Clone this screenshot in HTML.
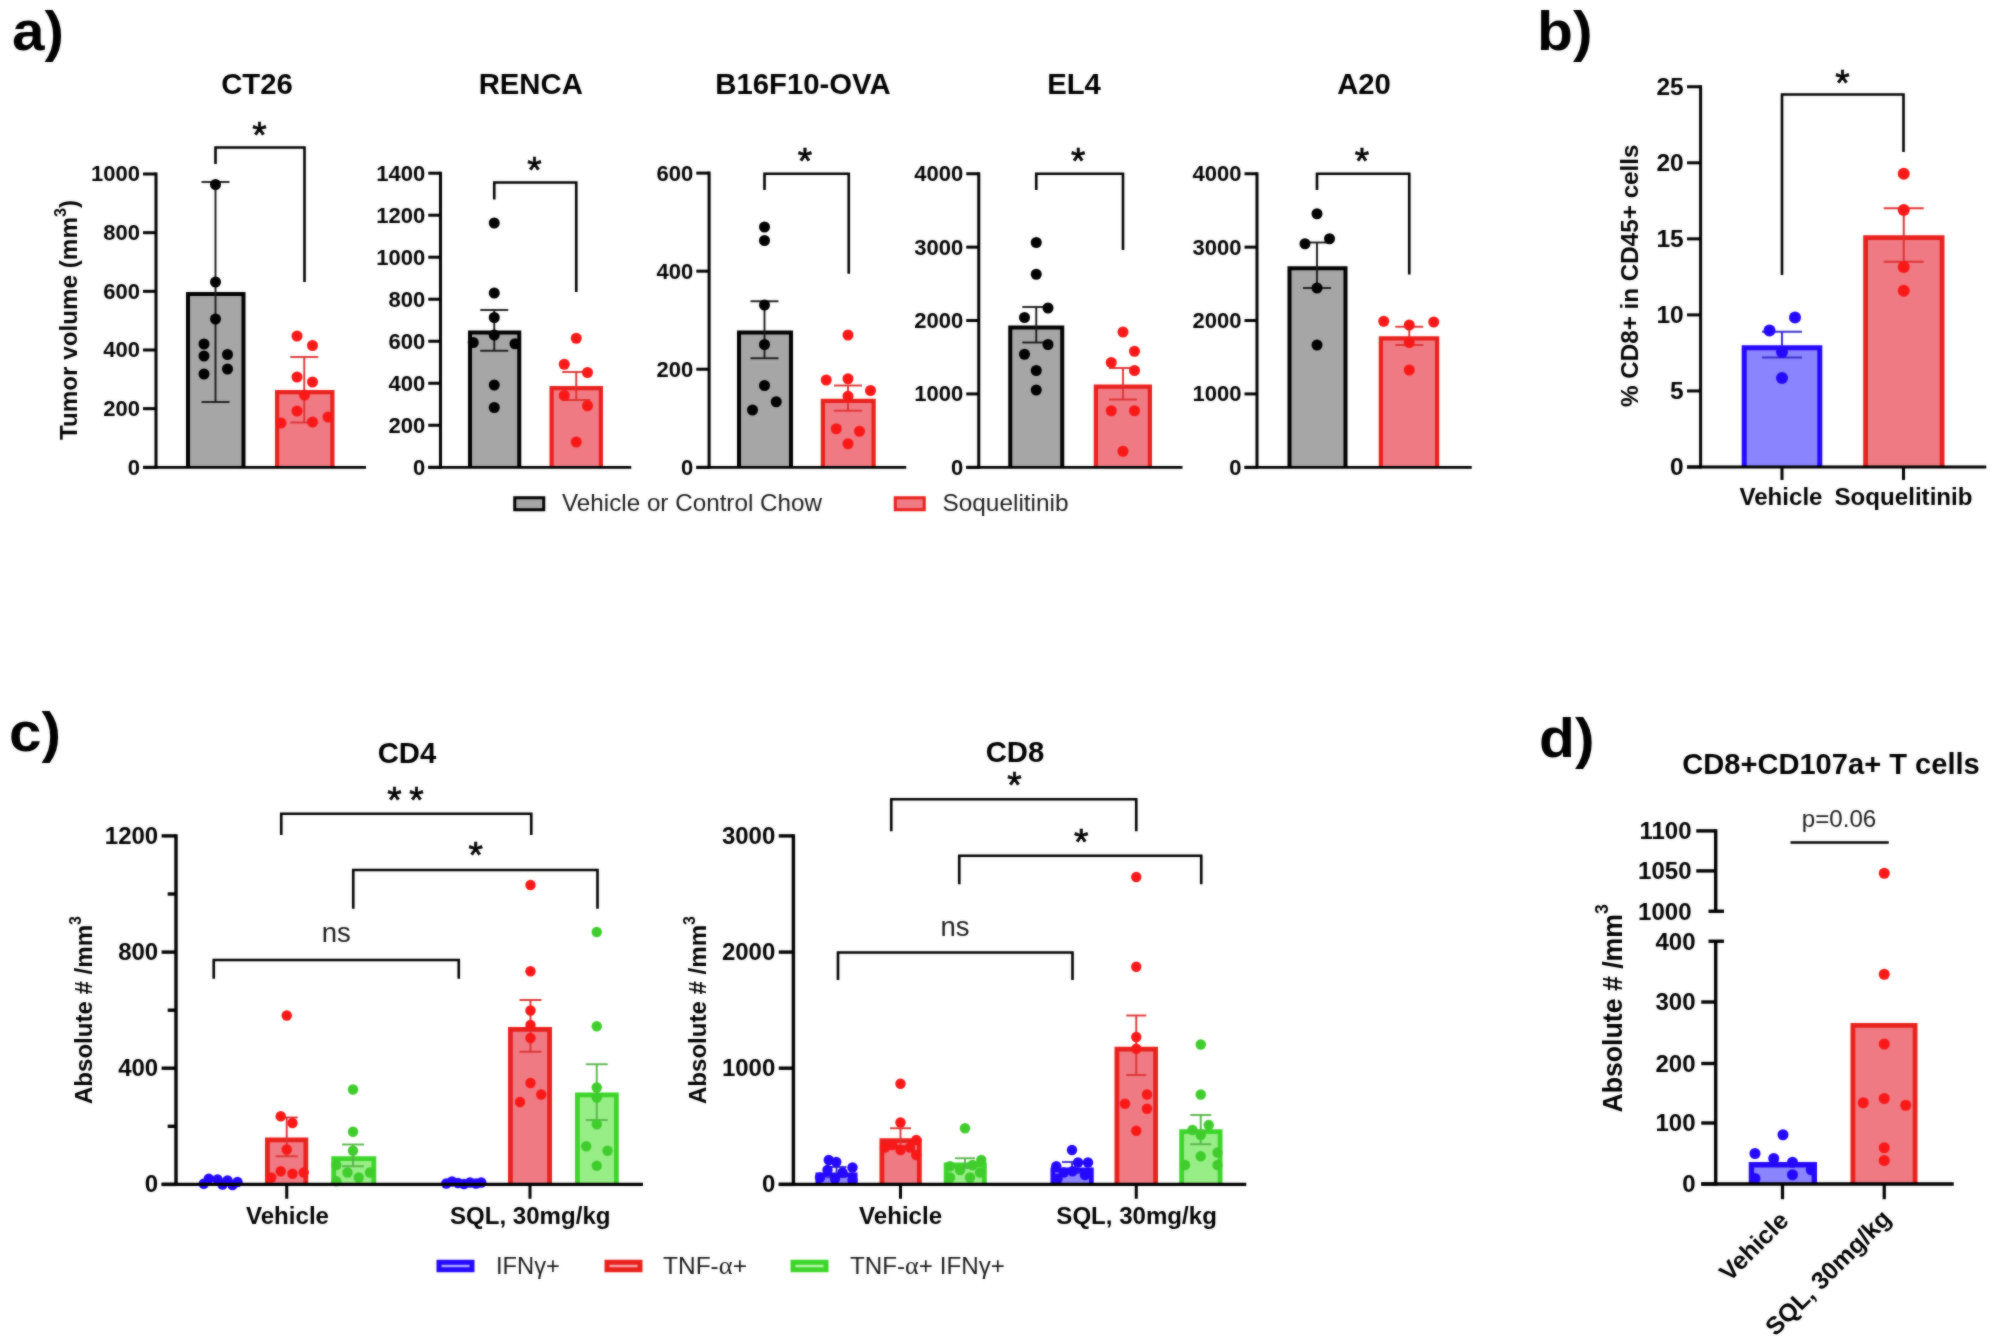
<!DOCTYPE html>
<html lang="en"><head><meta charset="utf-8"><title>Figure</title>
<style>
html,body{margin:0;padding:0;background:#fff;}
body{width:2000px;height:1341px;overflow:hidden;}
svg{display:block;font-family:"Liberation Sans",sans-serif;}
</style></head><body>
<svg width="2000" height="1341" viewBox="0 0 2000 1341">
<defs><filter id="soft" filterUnits="userSpaceOnUse" x="0" y="0" width="2000" height="1341" color-interpolation-filters="sRGB"><feGaussianBlur in="SourceGraphic" stdDeviation="1" result="b"/><feComposite in="b" in2="SourceGraphic" operator="arithmetic" k1="0" k2="0.5" k3="0.5" k4="0"/></filter></defs>
<g filter="url(#soft)">
<rect x="0" y="0" width="2000" height="1341" fill="#fff"/>
<text x="12.00" y="50.00" font-size="55" font-weight="bold" text-anchor="start" fill="#000" textLength="52" lengthAdjust="spacingAndGlyphs">a)</text>
<text x="1537.00" y="50.00" font-size="55" font-weight="bold" text-anchor="start" fill="#000" textLength="55.5" lengthAdjust="spacingAndGlyphs">b)</text>
<text x="9.00" y="751.00" font-size="55" font-weight="bold" text-anchor="start" fill="#000" textLength="52" lengthAdjust="spacingAndGlyphs">c)</text>
<text x="1539.00" y="756.50" font-size="55" font-weight="bold" text-anchor="start" fill="#000" textLength="55.5" lengthAdjust="spacingAndGlyphs">d)</text>
<text x="257.00" y="93.75" font-size="29.3" font-weight="bold" text-anchor="middle" fill="#000">CT26</text>
<path d="M188.00,467.30 V294.00 H243.50 V467.30" fill="#a6a6a6" stroke="#000" stroke-width="4" stroke-linejoin="miter"/>
<path d="M277.10,467.30 V392.10 H332.40 V467.30" fill="#f07a83" stroke="#e8211d" stroke-width="4.2" stroke-linejoin="miter"/>
<line x1="215.50" y1="182.00" x2="215.50" y2="402.00" stroke="#1a1a1a" stroke-width="1.9" stroke-linecap="butt"/>
<line x1="201.50" y1="182.00" x2="229.50" y2="182.00" stroke="#1a1a1a" stroke-width="1.9" stroke-linecap="butt"/>
<line x1="201.50" y1="402.00" x2="229.50" y2="402.00" stroke="#1a1a1a" stroke-width="1.9" stroke-linecap="butt"/>
<line x1="304.25" y1="357.00" x2="304.25" y2="422.50" stroke="#dc3434" stroke-width="1.9" stroke-linecap="butt"/>
<line x1="290.25" y1="357.00" x2="318.25" y2="357.00" stroke="#dc3434" stroke-width="1.9" stroke-linecap="butt"/>
<line x1="290.25" y1="422.50" x2="318.25" y2="422.50" stroke="#dc3434" stroke-width="1.9" stroke-linecap="butt"/>
<circle cx="215.50" cy="184.50" r="5.5" fill="#000"/>
<circle cx="215.50" cy="282.00" r="5.5" fill="#000"/>
<circle cx="215.50" cy="319.00" r="5.5" fill="#000"/>
<circle cx="204.00" cy="344.00" r="5.5" fill="#000"/>
<circle cx="204.00" cy="356.00" r="5.5" fill="#000"/>
<circle cx="227.50" cy="354.50" r="5.5" fill="#000"/>
<circle cx="227.50" cy="369.00" r="5.5" fill="#000"/>
<circle cx="204.00" cy="374.00" r="5.5" fill="#000"/>
<circle cx="297.00" cy="336.00" r="5.5" fill="#f81818"/>
<circle cx="312.50" cy="345.50" r="5.5" fill="#f81818"/>
<circle cx="297.00" cy="377.00" r="5.5" fill="#f81818"/>
<circle cx="312.50" cy="382.00" r="5.5" fill="#f81818"/>
<circle cx="304.50" cy="395.00" r="5.5" fill="#f81818"/>
<circle cx="297.00" cy="411.00" r="5.5" fill="#f81818"/>
<circle cx="281.00" cy="423.00" r="5.5" fill="#f81818"/>
<circle cx="312.50" cy="422.00" r="5.5" fill="#f81818"/>
<circle cx="328.00" cy="417.00" r="5.5" fill="#f81818"/>
<line x1="156.00" y1="172.50" x2="156.00" y2="468.80" stroke="#000" stroke-width="3" stroke-linecap="butt"/>
<line x1="143.00" y1="174.00" x2="156.00" y2="174.00" stroke="#000" stroke-width="3" stroke-linecap="butt"/>
<text x="140.00" y="181.40" font-size="22" font-weight="bold" text-anchor="end" fill="#000">1000</text>
<line x1="143.00" y1="232.66" x2="156.00" y2="232.66" stroke="#000" stroke-width="3" stroke-linecap="butt"/>
<text x="140.00" y="240.06" font-size="22" font-weight="bold" text-anchor="end" fill="#000">800</text>
<line x1="143.00" y1="291.32" x2="156.00" y2="291.32" stroke="#000" stroke-width="3" stroke-linecap="butt"/>
<text x="140.00" y="298.72" font-size="22" font-weight="bold" text-anchor="end" fill="#000">600</text>
<line x1="143.00" y1="349.98" x2="156.00" y2="349.98" stroke="#000" stroke-width="3" stroke-linecap="butt"/>
<text x="140.00" y="357.38" font-size="22" font-weight="bold" text-anchor="end" fill="#000">400</text>
<line x1="143.00" y1="408.64" x2="156.00" y2="408.64" stroke="#000" stroke-width="3" stroke-linecap="butt"/>
<text x="140.00" y="416.04" font-size="22" font-weight="bold" text-anchor="end" fill="#000">200</text>
<line x1="143.00" y1="467.30" x2="156.00" y2="467.30" stroke="#000" stroke-width="3" stroke-linecap="butt"/>
<text x="140.00" y="474.70" font-size="22" font-weight="bold" text-anchor="end" fill="#000">0</text>
<line x1="143.00" y1="467.30" x2="366.00" y2="467.30" stroke="#000" stroke-width="2.8" stroke-linecap="butt"/>
<path d="M215.50,164.00 V147.50 H304.50 V282.00" fill="none" stroke="#000" stroke-width="2.6" stroke-linejoin="miter"/>
<text x="259.50" y="148.00" font-size="37" font-weight="normal" text-anchor="middle" fill="#000" stroke="#000" stroke-width="0.7">*</text>
<text transform="translate(77.00,320.00) rotate(-90)" font-size="24" font-weight="bold" text-anchor="middle" fill="#000" textLength="240" lengthAdjust="spacingAndGlyphs">Tumor volume (mm<tspan font-size="16" dy="-11">3</tspan><tspan dy="11">)</tspan></text>
<text x="530.75" y="93.75" font-size="29.3" font-weight="bold" text-anchor="middle" fill="#000">RENCA</text>
<path d="M470.00,467.30 V332.50 H519.25 V467.30" fill="#a6a6a6" stroke="#000" stroke-width="4" stroke-linejoin="miter"/>
<path d="M551.60,467.30 V388.10 H600.90 V467.30" fill="#f07a83" stroke="#e8211d" stroke-width="4.2" stroke-linejoin="miter"/>
<line x1="494.25" y1="310.00" x2="494.25" y2="350.75" stroke="#1a1a1a" stroke-width="1.9" stroke-linecap="butt"/>
<line x1="480.25" y1="310.00" x2="508.25" y2="310.00" stroke="#1a1a1a" stroke-width="1.9" stroke-linecap="butt"/>
<line x1="480.25" y1="350.75" x2="508.25" y2="350.75" stroke="#1a1a1a" stroke-width="1.9" stroke-linecap="butt"/>
<line x1="576.25" y1="372.00" x2="576.25" y2="400.00" stroke="#dc3434" stroke-width="1.9" stroke-linecap="butt"/>
<line x1="562.25" y1="372.00" x2="590.25" y2="372.00" stroke="#dc3434" stroke-width="1.9" stroke-linecap="butt"/>
<line x1="562.25" y1="400.00" x2="590.25" y2="400.00" stroke="#dc3434" stroke-width="1.9" stroke-linecap="butt"/>
<circle cx="494.25" cy="223.00" r="5.5" fill="#000"/>
<circle cx="494.25" cy="293.00" r="5.5" fill="#000"/>
<circle cx="494.25" cy="317.50" r="5.5" fill="#000"/>
<circle cx="494.25" cy="335.00" r="5.5" fill="#000"/>
<circle cx="473.25" cy="342.50" r="5.5" fill="#000"/>
<circle cx="515.00" cy="343.75" r="5.5" fill="#000"/>
<circle cx="494.25" cy="385.00" r="5.5" fill="#000"/>
<circle cx="494.25" cy="407.50" r="5.5" fill="#000"/>
<circle cx="576.25" cy="338.25" r="5.5" fill="#f81818"/>
<circle cx="564.25" cy="364.25" r="5.5" fill="#f81818"/>
<circle cx="587.50" cy="372.50" r="5.5" fill="#f81818"/>
<circle cx="564.25" cy="395.50" r="5.5" fill="#f81818"/>
<circle cx="587.50" cy="405.75" r="5.5" fill="#f81818"/>
<circle cx="576.25" cy="442.00" r="5.5" fill="#f81818"/>
<line x1="440.50" y1="171.70" x2="440.50" y2="468.80" stroke="#000" stroke-width="3" stroke-linecap="butt"/>
<line x1="428.25" y1="173.20" x2="440.50" y2="173.20" stroke="#000" stroke-width="3" stroke-linecap="butt"/>
<text x="425.25" y="180.60" font-size="22" font-weight="bold" text-anchor="end" fill="#000">1400</text>
<line x1="428.25" y1="215.21" x2="440.50" y2="215.21" stroke="#000" stroke-width="3" stroke-linecap="butt"/>
<text x="425.25" y="222.61" font-size="22" font-weight="bold" text-anchor="end" fill="#000">1200</text>
<line x1="428.25" y1="257.22" x2="440.50" y2="257.22" stroke="#000" stroke-width="3" stroke-linecap="butt"/>
<text x="425.25" y="264.62" font-size="22" font-weight="bold" text-anchor="end" fill="#000">1000</text>
<line x1="428.25" y1="299.23" x2="440.50" y2="299.23" stroke="#000" stroke-width="3" stroke-linecap="butt"/>
<text x="425.25" y="306.63" font-size="22" font-weight="bold" text-anchor="end" fill="#000">800</text>
<line x1="428.25" y1="341.24" x2="440.50" y2="341.24" stroke="#000" stroke-width="3" stroke-linecap="butt"/>
<text x="425.25" y="348.64" font-size="22" font-weight="bold" text-anchor="end" fill="#000">600</text>
<line x1="428.25" y1="383.25" x2="440.50" y2="383.25" stroke="#000" stroke-width="3" stroke-linecap="butt"/>
<text x="425.25" y="390.65" font-size="22" font-weight="bold" text-anchor="end" fill="#000">400</text>
<line x1="428.25" y1="425.26" x2="440.50" y2="425.26" stroke="#000" stroke-width="3" stroke-linecap="butt"/>
<text x="425.25" y="432.66" font-size="22" font-weight="bold" text-anchor="end" fill="#000">200</text>
<line x1="428.25" y1="467.27" x2="440.50" y2="467.27" stroke="#000" stroke-width="3" stroke-linecap="butt"/>
<text x="425.25" y="474.67" font-size="22" font-weight="bold" text-anchor="end" fill="#000">0</text>
<line x1="428.25" y1="467.30" x2="631.25" y2="467.30" stroke="#000" stroke-width="2.8" stroke-linecap="butt"/>
<path d="M494.25,199.50 V182.50 H576.25 V292.00" fill="none" stroke="#000" stroke-width="2.6" stroke-linejoin="miter"/>
<text x="534.50" y="183.00" font-size="37" font-weight="normal" text-anchor="middle" fill="#000" stroke="#000" stroke-width="0.7">*</text>
<text x="803.00" y="93.75" font-size="29.3" font-weight="bold" text-anchor="middle" fill="#000">B16F10-OVA</text>
<path d="M739.00,467.30 V332.50 H791.00 V467.30" fill="#a6a6a6" stroke="#000" stroke-width="4" stroke-linejoin="miter"/>
<path d="M822.85,467.30 V400.85 H873.65 V467.30" fill="#f07a83" stroke="#e8211d" stroke-width="4.2" stroke-linejoin="miter"/>
<line x1="764.50" y1="301.25" x2="764.50" y2="358.25" stroke="#1a1a1a" stroke-width="1.9" stroke-linecap="butt"/>
<line x1="750.50" y1="301.25" x2="778.50" y2="301.25" stroke="#1a1a1a" stroke-width="1.9" stroke-linecap="butt"/>
<line x1="750.50" y1="358.25" x2="778.50" y2="358.25" stroke="#1a1a1a" stroke-width="1.9" stroke-linecap="butt"/>
<line x1="848.00" y1="385.50" x2="848.00" y2="410.75" stroke="#dc3434" stroke-width="1.9" stroke-linecap="butt"/>
<line x1="834.00" y1="385.50" x2="862.00" y2="385.50" stroke="#dc3434" stroke-width="1.9" stroke-linecap="butt"/>
<line x1="834.00" y1="410.75" x2="862.00" y2="410.75" stroke="#dc3434" stroke-width="1.9" stroke-linecap="butt"/>
<circle cx="764.50" cy="227.00" r="5.5" fill="#000"/>
<circle cx="764.50" cy="240.50" r="5.5" fill="#000"/>
<circle cx="764.50" cy="305.00" r="5.5" fill="#000"/>
<circle cx="764.50" cy="344.50" r="5.5" fill="#000"/>
<circle cx="764.50" cy="385.50" r="5.5" fill="#000"/>
<circle cx="776.25" cy="401.75" r="5.5" fill="#000"/>
<circle cx="752.50" cy="410.00" r="5.5" fill="#000"/>
<circle cx="848.00" cy="335.00" r="5.5" fill="#f81818"/>
<circle cx="826.25" cy="380.00" r="5.5" fill="#f81818"/>
<circle cx="848.00" cy="378.75" r="5.5" fill="#f81818"/>
<circle cx="870.50" cy="390.50" r="5.5" fill="#f81818"/>
<circle cx="848.00" cy="396.25" r="5.5" fill="#f81818"/>
<circle cx="836.25" cy="428.75" r="5.5" fill="#f81818"/>
<circle cx="859.50" cy="431.25" r="5.5" fill="#f81818"/>
<circle cx="848.00" cy="443.75" r="5.5" fill="#f81818"/>
<line x1="709.10" y1="171.60" x2="709.10" y2="468.80" stroke="#000" stroke-width="3" stroke-linecap="butt"/>
<line x1="696.30" y1="173.10" x2="709.10" y2="173.10" stroke="#000" stroke-width="3" stroke-linecap="butt"/>
<text x="693.30" y="180.50" font-size="22" font-weight="bold" text-anchor="end" fill="#000">600</text>
<line x1="696.30" y1="271.17" x2="709.10" y2="271.17" stroke="#000" stroke-width="3" stroke-linecap="butt"/>
<text x="693.30" y="278.57" font-size="22" font-weight="bold" text-anchor="end" fill="#000">400</text>
<line x1="696.30" y1="369.24" x2="709.10" y2="369.24" stroke="#000" stroke-width="3" stroke-linecap="butt"/>
<text x="693.30" y="376.64" font-size="22" font-weight="bold" text-anchor="end" fill="#000">200</text>
<line x1="696.30" y1="467.31" x2="709.10" y2="467.31" stroke="#000" stroke-width="3" stroke-linecap="butt"/>
<text x="693.30" y="474.71" font-size="22" font-weight="bold" text-anchor="end" fill="#000">0</text>
<line x1="696.30" y1="467.30" x2="906.25" y2="467.30" stroke="#000" stroke-width="2.8" stroke-linecap="butt"/>
<path d="M764.50,190.00 V173.75 H848.75 V273.75" fill="none" stroke="#000" stroke-width="2.6" stroke-linejoin="miter"/>
<text x="805.00" y="174.00" font-size="37" font-weight="normal" text-anchor="middle" fill="#000" stroke="#000" stroke-width="0.7">*</text>
<text x="1074.00" y="93.75" font-size="29.3" font-weight="bold" text-anchor="middle" fill="#000">EL4</text>
<path d="M1010.25,467.30 V327.50 H1062.25 V467.30" fill="#a6a6a6" stroke="#000" stroke-width="4" stroke-linejoin="miter"/>
<path d="M1095.85,467.30 V386.60 H1149.90 V467.30" fill="#f07a83" stroke="#e8211d" stroke-width="4.2" stroke-linejoin="miter"/>
<line x1="1036.25" y1="307.00" x2="1036.25" y2="342.50" stroke="#1a1a1a" stroke-width="1.9" stroke-linecap="butt"/>
<line x1="1022.25" y1="307.00" x2="1050.25" y2="307.00" stroke="#1a1a1a" stroke-width="1.9" stroke-linecap="butt"/>
<line x1="1022.25" y1="342.50" x2="1050.25" y2="342.50" stroke="#1a1a1a" stroke-width="1.9" stroke-linecap="butt"/>
<line x1="1123.00" y1="368.00" x2="1123.00" y2="399.50" stroke="#dc3434" stroke-width="1.9" stroke-linecap="butt"/>
<line x1="1109.00" y1="368.00" x2="1137.00" y2="368.00" stroke="#dc3434" stroke-width="1.9" stroke-linecap="butt"/>
<line x1="1109.00" y1="399.50" x2="1137.00" y2="399.50" stroke="#dc3434" stroke-width="1.9" stroke-linecap="butt"/>
<circle cx="1036.25" cy="242.50" r="5.5" fill="#000"/>
<circle cx="1036.25" cy="274.25" r="5.5" fill="#000"/>
<circle cx="1048.00" cy="308.00" r="5.5" fill="#000"/>
<circle cx="1024.50" cy="317.50" r="5.5" fill="#000"/>
<circle cx="1048.00" cy="344.50" r="5.5" fill="#000"/>
<circle cx="1024.50" cy="354.25" r="5.5" fill="#000"/>
<circle cx="1036.25" cy="370.50" r="5.5" fill="#000"/>
<circle cx="1036.25" cy="390.00" r="5.5" fill="#000"/>
<circle cx="1123.00" cy="332.00" r="5.5" fill="#f81818"/>
<circle cx="1134.50" cy="351.25" r="5.5" fill="#f81818"/>
<circle cx="1111.25" cy="362.50" r="5.5" fill="#f81818"/>
<circle cx="1134.50" cy="370.50" r="5.5" fill="#f81818"/>
<circle cx="1111.25" cy="410.75" r="5.5" fill="#f81818"/>
<circle cx="1134.50" cy="410.75" r="5.5" fill="#f81818"/>
<circle cx="1123.00" cy="451.25" r="5.5" fill="#f81818"/>
<line x1="978.75" y1="172.25" x2="978.75" y2="468.80" stroke="#000" stroke-width="3" stroke-linecap="butt"/>
<line x1="966.25" y1="173.75" x2="978.75" y2="173.75" stroke="#000" stroke-width="3" stroke-linecap="butt"/>
<text x="963.25" y="181.15" font-size="22" font-weight="bold" text-anchor="end" fill="#000">4000</text>
<line x1="966.25" y1="247.14" x2="978.75" y2="247.14" stroke="#000" stroke-width="3" stroke-linecap="butt"/>
<text x="963.25" y="254.54" font-size="22" font-weight="bold" text-anchor="end" fill="#000">3000</text>
<line x1="966.25" y1="320.53" x2="978.75" y2="320.53" stroke="#000" stroke-width="3" stroke-linecap="butt"/>
<text x="963.25" y="327.93" font-size="22" font-weight="bold" text-anchor="end" fill="#000">2000</text>
<line x1="966.25" y1="393.92" x2="978.75" y2="393.92" stroke="#000" stroke-width="3" stroke-linecap="butt"/>
<text x="963.25" y="401.32" font-size="22" font-weight="bold" text-anchor="end" fill="#000">1000</text>
<line x1="966.25" y1="467.31" x2="978.75" y2="467.31" stroke="#000" stroke-width="3" stroke-linecap="butt"/>
<text x="963.25" y="474.71" font-size="22" font-weight="bold" text-anchor="end" fill="#000">0</text>
<line x1="966.25" y1="467.30" x2="1182.50" y2="467.30" stroke="#000" stroke-width="2.8" stroke-linecap="butt"/>
<path d="M1036.25,190.00 V173.75 H1123.00 V250.00" fill="none" stroke="#000" stroke-width="2.6" stroke-linejoin="miter"/>
<text x="1078.25" y="174.00" font-size="37" font-weight="normal" text-anchor="middle" fill="#000" stroke="#000" stroke-width="0.7">*</text>
<text x="1364.00" y="93.75" font-size="29.3" font-weight="bold" text-anchor="middle" fill="#000">A20</text>
<path d="M1289.50,467.30 V268.25 H1345.50 V467.30" fill="#a6a6a6" stroke="#000" stroke-width="4" stroke-linejoin="miter"/>
<path d="M1380.85,467.30 V338.35 H1437.15 V467.30" fill="#f07a83" stroke="#e8211d" stroke-width="4.2" stroke-linejoin="miter"/>
<line x1="1317.00" y1="242.50" x2="1317.00" y2="288.00" stroke="#1a1a1a" stroke-width="1.9" stroke-linecap="butt"/>
<line x1="1303.00" y1="242.50" x2="1331.00" y2="242.50" stroke="#1a1a1a" stroke-width="1.9" stroke-linecap="butt"/>
<line x1="1303.00" y1="288.00" x2="1331.00" y2="288.00" stroke="#1a1a1a" stroke-width="1.9" stroke-linecap="butt"/>
<line x1="1409.25" y1="326.75" x2="1409.25" y2="345.00" stroke="#dc3434" stroke-width="1.9" stroke-linecap="butt"/>
<line x1="1395.25" y1="326.75" x2="1423.25" y2="326.75" stroke="#dc3434" stroke-width="1.9" stroke-linecap="butt"/>
<line x1="1395.25" y1="345.00" x2="1423.25" y2="345.00" stroke="#dc3434" stroke-width="1.9" stroke-linecap="butt"/>
<circle cx="1317.00" cy="213.75" r="5.5" fill="#000"/>
<circle cx="1329.50" cy="238.75" r="5.5" fill="#000"/>
<circle cx="1305.00" cy="243.75" r="5.5" fill="#000"/>
<circle cx="1317.00" cy="288.00" r="5.5" fill="#000"/>
<circle cx="1317.00" cy="345.00" r="5.5" fill="#000"/>
<circle cx="1383.75" cy="321.25" r="5.5" fill="#f81818"/>
<circle cx="1409.25" cy="325.00" r="5.5" fill="#f81818"/>
<circle cx="1433.75" cy="322.00" r="5.5" fill="#f81818"/>
<circle cx="1409.25" cy="342.50" r="5.5" fill="#f81818"/>
<circle cx="1409.25" cy="370.00" r="5.5" fill="#f81818"/>
<line x1="1257.00" y1="172.25" x2="1257.00" y2="468.80" stroke="#000" stroke-width="3" stroke-linecap="butt"/>
<line x1="1244.50" y1="173.75" x2="1257.00" y2="173.75" stroke="#000" stroke-width="3" stroke-linecap="butt"/>
<text x="1241.50" y="181.15" font-size="22" font-weight="bold" text-anchor="end" fill="#000">4000</text>
<line x1="1244.50" y1="247.14" x2="1257.00" y2="247.14" stroke="#000" stroke-width="3" stroke-linecap="butt"/>
<text x="1241.50" y="254.54" font-size="22" font-weight="bold" text-anchor="end" fill="#000">3000</text>
<line x1="1244.50" y1="320.53" x2="1257.00" y2="320.53" stroke="#000" stroke-width="3" stroke-linecap="butt"/>
<text x="1241.50" y="327.93" font-size="22" font-weight="bold" text-anchor="end" fill="#000">2000</text>
<line x1="1244.50" y1="393.92" x2="1257.00" y2="393.92" stroke="#000" stroke-width="3" stroke-linecap="butt"/>
<text x="1241.50" y="401.32" font-size="22" font-weight="bold" text-anchor="end" fill="#000">1000</text>
<line x1="1244.50" y1="467.31" x2="1257.00" y2="467.31" stroke="#000" stroke-width="3" stroke-linecap="butt"/>
<text x="1241.50" y="474.71" font-size="22" font-weight="bold" text-anchor="end" fill="#000">0</text>
<line x1="1244.50" y1="467.30" x2="1471.75" y2="467.30" stroke="#000" stroke-width="2.8" stroke-linecap="butt"/>
<path d="M1317.00,190.00 V173.75 H1409.25 V274.50" fill="none" stroke="#000" stroke-width="2.6" stroke-linejoin="miter"/>
<text x="1362.00" y="174.00" font-size="37" font-weight="normal" text-anchor="middle" fill="#000" stroke="#000" stroke-width="0.7">*</text>
<rect x="514.75" y="497.75" width="29" height="12" fill="#a6a6a6" stroke="#000" stroke-width="3"/>
<text x="562.00" y="511.25" font-size="24" font-weight="normal" text-anchor="start" fill="#1a1a1a" textLength="260" lengthAdjust="spacingAndGlyphs">Vehicle or Control Chow</text>
<rect x="895.25" y="497.75" width="29" height="12" fill="#f07a83" stroke="#e8211d" stroke-width="3"/>
<text x="942.50" y="511.25" font-size="24" font-weight="normal" text-anchor="start" fill="#1a1a1a" textLength="126" lengthAdjust="spacingAndGlyphs">Soquelitinib</text>
<path d="M1744.20,467.00 V347.80 H1819.80 V467.00" fill="#8a84ff" stroke="#2408ff" stroke-width="5.0" stroke-linejoin="miter"/>
<path d="M1865.60,467.00 V237.70 H1942.10 V467.00" fill="#f07a83" stroke="#e8211d" stroke-width="4.8" stroke-linejoin="miter"/>
<line x1="1782.00" y1="331.75" x2="1782.00" y2="357.50" stroke="#3a30c8" stroke-width="2.0" stroke-linecap="butt"/>
<line x1="1762.00" y1="331.75" x2="1802.00" y2="331.75" stroke="#3a30c8" stroke-width="2.0" stroke-linecap="butt"/>
<line x1="1762.00" y1="357.50" x2="1802.00" y2="357.50" stroke="#3a30c8" stroke-width="2.0" stroke-linecap="butt"/>
<line x1="1903.75" y1="208.25" x2="1903.75" y2="261.75" stroke="#dc3434" stroke-width="2.0" stroke-linecap="butt"/>
<line x1="1883.75" y1="208.25" x2="1923.75" y2="208.25" stroke="#dc3434" stroke-width="2.0" stroke-linecap="butt"/>
<line x1="1883.75" y1="261.75" x2="1923.75" y2="261.75" stroke="#dc3434" stroke-width="2.0" stroke-linecap="butt"/>
<circle cx="1795.00" cy="317.50" r="6" fill="#2408ff"/>
<circle cx="1769.50" cy="330.50" r="6" fill="#2408ff"/>
<circle cx="1782.00" cy="352.00" r="6" fill="#2408ff"/>
<circle cx="1782.00" cy="378.00" r="6" fill="#2408ff"/>
<circle cx="1903.75" cy="173.75" r="6" fill="#f81818"/>
<circle cx="1903.75" cy="210.00" r="6" fill="#f81818"/>
<circle cx="1903.75" cy="267.00" r="6" fill="#f81818"/>
<circle cx="1903.75" cy="290.75" r="6" fill="#f81818"/>
<line x1="1700.60" y1="85.25" x2="1700.60" y2="468.50" stroke="#000" stroke-width="3" stroke-linecap="butt"/>
<line x1="1687.00" y1="86.75" x2="1700.60" y2="86.75" stroke="#000" stroke-width="3" stroke-linecap="butt"/>
<text x="1683.75" y="95.05" font-size="24.5" font-weight="bold" text-anchor="end" fill="#000">25</text>
<line x1="1687.00" y1="162.80" x2="1700.60" y2="162.80" stroke="#000" stroke-width="3" stroke-linecap="butt"/>
<text x="1683.75" y="171.10" font-size="24.5" font-weight="bold" text-anchor="end" fill="#000">20</text>
<line x1="1687.00" y1="238.85" x2="1700.60" y2="238.85" stroke="#000" stroke-width="3" stroke-linecap="butt"/>
<text x="1683.75" y="247.15" font-size="24.5" font-weight="bold" text-anchor="end" fill="#000">15</text>
<line x1="1687.00" y1="314.90" x2="1700.60" y2="314.90" stroke="#000" stroke-width="3" stroke-linecap="butt"/>
<text x="1683.75" y="323.20" font-size="24.5" font-weight="bold" text-anchor="end" fill="#000">10</text>
<line x1="1687.00" y1="390.95" x2="1700.60" y2="390.95" stroke="#000" stroke-width="3" stroke-linecap="butt"/>
<text x="1683.75" y="399.25" font-size="24.5" font-weight="bold" text-anchor="end" fill="#000">5</text>
<line x1="1687.00" y1="467.00" x2="1700.60" y2="467.00" stroke="#000" stroke-width="3" stroke-linecap="butt"/>
<text x="1683.75" y="475.30" font-size="24.5" font-weight="bold" text-anchor="end" fill="#000">0</text>
<line x1="1687.00" y1="467.00" x2="1986.25" y2="467.00" stroke="#000" stroke-width="2.8" stroke-linecap="butt"/>
<line x1="1782.00" y1="467.00" x2="1782.00" y2="480.00" stroke="#000" stroke-width="3" stroke-linecap="butt"/>
<line x1="1903.50" y1="467.00" x2="1903.50" y2="480.00" stroke="#000" stroke-width="3" stroke-linecap="butt"/>
<path d="M1782.00,275.00 V94.50 H1903.50 V152.00" fill="none" stroke="#000" stroke-width="2.6" stroke-linejoin="miter"/>
<text x="1842.50" y="95.50" font-size="37" font-weight="normal" text-anchor="middle" fill="#000" stroke="#000" stroke-width="0.7">*</text>
<text transform="translate(1638.00,275.75) rotate(-90)" font-size="24" font-weight="bold" text-anchor="middle" fill="#000" textLength="262.5" lengthAdjust="spacingAndGlyphs">% CD8+ in CD45+ cells</text>
<text x="1781.00" y="505.00" font-size="24" font-weight="bold" text-anchor="middle" fill="#000" textLength="83" lengthAdjust="spacingAndGlyphs">Vehicle</text>
<text x="1903.50" y="505.00" font-size="24" font-weight="bold" text-anchor="middle" fill="#000" textLength="138" lengthAdjust="spacingAndGlyphs">Soquelitinib</text>
<text x="407.00" y="762.50" font-size="29.3" font-weight="bold" text-anchor="middle" fill="#000">CD4</text>
<circle cx="203.75" cy="1183.75" r="5.2" fill="#2408ff"/>
<circle cx="208.75" cy="1178.75" r="5.2" fill="#2408ff"/>
<circle cx="217.50" cy="1179.50" r="5.2" fill="#2408ff"/>
<circle cx="222.50" cy="1184.50" r="5.2" fill="#2408ff"/>
<circle cx="227.50" cy="1180.50" r="5.2" fill="#2408ff"/>
<circle cx="232.50" cy="1185.00" r="5.2" fill="#2408ff"/>
<circle cx="237.50" cy="1182.00" r="5.2" fill="#2408ff"/>
<path d="M267.40,1184.40 V1139.90 H305.85 V1184.40" fill="#f07a83" stroke="#e8211d" stroke-width="4.8" stroke-linejoin="miter"/>
<line x1="286.75" y1="1117.50" x2="286.75" y2="1156.25" stroke="#dc3434" stroke-width="1.9" stroke-linecap="butt"/>
<line x1="275.75" y1="1117.50" x2="297.75" y2="1117.50" stroke="#dc3434" stroke-width="1.9" stroke-linecap="butt"/>
<line x1="275.75" y1="1156.25" x2="297.75" y2="1156.25" stroke="#dc3434" stroke-width="1.9" stroke-linecap="butt"/>
<circle cx="286.75" cy="1015.50" r="5.2" fill="#f81818"/>
<circle cx="280.75" cy="1116.25" r="5.2" fill="#f81818"/>
<circle cx="292.50" cy="1123.00" r="5.2" fill="#f81818"/>
<circle cx="286.75" cy="1149.50" r="5.2" fill="#f81818"/>
<circle cx="280.75" cy="1171.25" r="5.2" fill="#f81818"/>
<circle cx="292.50" cy="1173.75" r="5.2" fill="#f81818"/>
<circle cx="271.25" cy="1177.50" r="5.2" fill="#f81818"/>
<circle cx="303.75" cy="1172.50" r="5.2" fill="#f81818"/>
<path d="M333.65,1184.40 V1158.65 H373.85 V1184.40" fill="#98ee86" stroke="#3dd52a" stroke-width="4.8" stroke-linejoin="miter"/>
<line x1="353.00" y1="1144.50" x2="353.00" y2="1166.25" stroke="#5ab44e" stroke-width="1.9" stroke-linecap="butt"/>
<line x1="342.00" y1="1144.50" x2="364.00" y2="1144.50" stroke="#5ab44e" stroke-width="1.9" stroke-linecap="butt"/>
<line x1="342.00" y1="1166.25" x2="364.00" y2="1166.25" stroke="#5ab44e" stroke-width="1.9" stroke-linecap="butt"/>
<circle cx="353.00" cy="1089.50" r="5.2" fill="#3fcc2c"/>
<circle cx="353.00" cy="1131.75" r="5.2" fill="#3fcc2c"/>
<circle cx="353.00" cy="1150.75" r="5.2" fill="#3fcc2c"/>
<circle cx="336.25" cy="1165.00" r="5.2" fill="#3fcc2c"/>
<circle cx="347.50" cy="1172.50" r="5.2" fill="#3fcc2c"/>
<circle cx="358.75" cy="1177.50" r="5.2" fill="#3fcc2c"/>
<circle cx="370.00" cy="1172.50" r="5.2" fill="#3fcc2c"/>
<circle cx="336.25" cy="1181.25" r="5.2" fill="#3fcc2c"/>
<circle cx="446.25" cy="1183.50" r="5.2" fill="#2408ff"/>
<circle cx="452.00" cy="1181.50" r="5.2" fill="#2408ff"/>
<circle cx="458.00" cy="1183.00" r="5.2" fill="#2408ff"/>
<circle cx="464.00" cy="1184.00" r="5.2" fill="#2408ff"/>
<circle cx="470.00" cy="1182.50" r="5.2" fill="#2408ff"/>
<circle cx="476.00" cy="1183.50" r="5.2" fill="#2408ff"/>
<circle cx="481.25" cy="1182.50" r="5.2" fill="#2408ff"/>
<path d="M510.40,1184.40 V1029.40 H549.60 V1184.40" fill="#f07a83" stroke="#e8211d" stroke-width="4.8" stroke-linejoin="miter"/>
<line x1="530.50" y1="1000.00" x2="530.50" y2="1051.75" stroke="#dc3434" stroke-width="1.9" stroke-linecap="butt"/>
<line x1="519.50" y1="1000.00" x2="541.50" y2="1000.00" stroke="#dc3434" stroke-width="1.9" stroke-linecap="butt"/>
<line x1="519.50" y1="1051.75" x2="541.50" y2="1051.75" stroke="#dc3434" stroke-width="1.9" stroke-linecap="butt"/>
<circle cx="530.50" cy="885.00" r="5.2" fill="#f81818"/>
<circle cx="530.50" cy="971.25" r="5.2" fill="#f81818"/>
<circle cx="530.50" cy="1010.50" r="5.2" fill="#f81818"/>
<circle cx="530.50" cy="1025.00" r="5.2" fill="#f81818"/>
<circle cx="530.50" cy="1038.00" r="5.2" fill="#f81818"/>
<circle cx="530.50" cy="1083.00" r="5.2" fill="#f81818"/>
<circle cx="541.25" cy="1094.50" r="5.2" fill="#f81818"/>
<circle cx="520.00" cy="1102.00" r="5.2" fill="#f81818"/>
<path d="M577.40,1184.40 V1094.90 H616.35 V1184.40" fill="#98ee86" stroke="#3dd52a" stroke-width="4.8" stroke-linejoin="miter"/>
<line x1="596.75" y1="1064.25" x2="596.75" y2="1120.00" stroke="#5ab44e" stroke-width="1.9" stroke-linecap="butt"/>
<line x1="585.75" y1="1064.25" x2="607.75" y2="1064.25" stroke="#5ab44e" stroke-width="1.9" stroke-linecap="butt"/>
<line x1="585.75" y1="1120.00" x2="607.75" y2="1120.00" stroke="#5ab44e" stroke-width="1.9" stroke-linecap="butt"/>
<circle cx="596.75" cy="932.00" r="5.2" fill="#3fcc2c"/>
<circle cx="596.75" cy="1026.25" r="5.2" fill="#3fcc2c"/>
<circle cx="596.75" cy="1087.50" r="5.2" fill="#3fcc2c"/>
<circle cx="596.75" cy="1097.50" r="5.2" fill="#3fcc2c"/>
<circle cx="596.75" cy="1124.25" r="5.2" fill="#3fcc2c"/>
<circle cx="586.25" cy="1146.25" r="5.2" fill="#3fcc2c"/>
<circle cx="607.50" cy="1150.75" r="5.2" fill="#3fcc2c"/>
<circle cx="596.75" cy="1165.75" r="5.2" fill="#3fcc2c"/>
<line x1="176.00" y1="834.20" x2="176.00" y2="1186.10" stroke="#000" stroke-width="3.4" stroke-linecap="butt"/>
<line x1="161.60" y1="835.90" x2="176.00" y2="835.90" stroke="#000" stroke-width="3.4" stroke-linecap="butt"/>
<text x="158.20" y="843.60" font-size="24" font-weight="bold" text-anchor="end" fill="#000">1200</text>
<line x1="167.70" y1="894.00" x2="176.00" y2="894.00" stroke="#000" stroke-width="3.4" stroke-linecap="butt"/>
<line x1="161.60" y1="952.10" x2="176.00" y2="952.10" stroke="#000" stroke-width="3.4" stroke-linecap="butt"/>
<text x="158.20" y="959.80" font-size="24" font-weight="bold" text-anchor="end" fill="#000">800</text>
<line x1="167.70" y1="1010.20" x2="176.00" y2="1010.20" stroke="#000" stroke-width="3.4" stroke-linecap="butt"/>
<line x1="161.60" y1="1068.20" x2="176.00" y2="1068.20" stroke="#000" stroke-width="3.4" stroke-linecap="butt"/>
<text x="158.20" y="1075.90" font-size="24" font-weight="bold" text-anchor="end" fill="#000">400</text>
<line x1="167.70" y1="1126.30" x2="176.00" y2="1126.30" stroke="#000" stroke-width="3.4" stroke-linecap="butt"/>
<line x1="161.60" y1="1184.40" x2="176.00" y2="1184.40" stroke="#000" stroke-width="3.4" stroke-linecap="butt"/>
<text x="158.20" y="1192.10" font-size="24" font-weight="bold" text-anchor="end" fill="#000">0</text>
<line x1="161.60" y1="1184.40" x2="643.00" y2="1184.40" stroke="#000" stroke-width="3.4" stroke-linecap="butt"/>
<line x1="286.75" y1="1184.40" x2="286.75" y2="1198.75" stroke="#000" stroke-width="3" stroke-linecap="butt"/>
<line x1="530.00" y1="1184.40" x2="530.00" y2="1198.75" stroke="#000" stroke-width="3" stroke-linecap="butt"/>
<text x="287.50" y="1223.75" font-size="24" font-weight="bold" text-anchor="middle" fill="#000" textLength="83" lengthAdjust="spacingAndGlyphs">Vehicle</text>
<text x="530.25" y="1223.75" font-size="24" font-weight="bold" text-anchor="middle" fill="#000" textLength="160.5" lengthAdjust="spacingAndGlyphs">SQL, 30mg/kg</text>
<path d="M281.25,835.00 V813.75 H531.25 V835.00" fill="none" stroke="#000" stroke-width="2.6" stroke-linejoin="miter"/>
<text x="409.25" y="812.50" font-size="37" font-weight="normal" text-anchor="middle" fill="#000" stroke="#000" stroke-width="0.7" letter-spacing="7.5">**</text>
<path d="M353.25,908.75 V870.00 H597.50 V908.75" fill="none" stroke="#000" stroke-width="2.6" stroke-linejoin="miter"/>
<text x="475.75" y="868.00" font-size="37" font-weight="normal" text-anchor="middle" fill="#000" stroke="#000" stroke-width="0.7">*</text>
<path d="M213.75,978.75 V960.00 H458.75 V978.75" fill="none" stroke="#000" stroke-width="2.6" stroke-linejoin="miter"/>
<text x="336.25" y="942.30" font-size="27.5" font-weight="normal" text-anchor="middle" fill="#1a1a1a">ns</text>
<text transform="translate(92.00,1010.00) rotate(-90)" font-size="24" font-weight="bold" text-anchor="middle" fill="#000" textLength="188" lengthAdjust="spacingAndGlyphs">Absolute # /mm<tspan font-size="16" dy="-11">3</tspan></text>
<text x="1015.00" y="761.50" font-size="29.3" font-weight="bold" text-anchor="middle" fill="#000">CD8</text>
<path d="M817.90,1184.40 V1174.90 H855.10 V1184.40" fill="#8a84ff" stroke="#2408ff" stroke-width="4.8" stroke-linejoin="miter"/>
<line x1="836.50" y1="1167.00" x2="836.50" y2="1177.00" stroke="#3a30c8" stroke-width="1.9" stroke-linecap="butt"/>
<line x1="826.50" y1="1167.00" x2="846.50" y2="1167.00" stroke="#3a30c8" stroke-width="1.9" stroke-linecap="butt"/>
<line x1="826.50" y1="1177.00" x2="846.50" y2="1177.00" stroke="#3a30c8" stroke-width="1.9" stroke-linecap="butt"/>
<circle cx="828.75" cy="1160.00" r="5.2" fill="#2408ff"/>
<circle cx="836.25" cy="1162.00" r="5.2" fill="#2408ff"/>
<circle cx="852.50" cy="1167.50" r="5.2" fill="#2408ff"/>
<circle cx="827.50" cy="1170.00" r="5.2" fill="#2408ff"/>
<circle cx="842.50" cy="1172.50" r="5.2" fill="#2408ff"/>
<circle cx="820.00" cy="1177.50" r="5.2" fill="#2408ff"/>
<circle cx="852.50" cy="1180.00" r="5.2" fill="#2408ff"/>
<circle cx="835.00" cy="1178.75" r="5.2" fill="#2408ff"/>
<path d="M881.90,1184.40 V1140.65 H919.35 V1184.40" fill="#f07a83" stroke="#e8211d" stroke-width="4.8" stroke-linejoin="miter"/>
<line x1="900.50" y1="1128.25" x2="900.50" y2="1146.00" stroke="#dc3434" stroke-width="1.9" stroke-linecap="butt"/>
<line x1="890.00" y1="1128.25" x2="911.00" y2="1128.25" stroke="#dc3434" stroke-width="1.9" stroke-linecap="butt"/>
<line x1="890.00" y1="1146.00" x2="911.00" y2="1146.00" stroke="#dc3434" stroke-width="1.9" stroke-linecap="butt"/>
<circle cx="900.50" cy="1083.75" r="5.2" fill="#f81818"/>
<circle cx="900.50" cy="1122.50" r="5.2" fill="#f81818"/>
<circle cx="916.25" cy="1140.00" r="5.2" fill="#f81818"/>
<circle cx="885.00" cy="1147.50" r="5.2" fill="#f81818"/>
<circle cx="900.50" cy="1150.00" r="5.2" fill="#f81818"/>
<circle cx="910.00" cy="1147.50" r="5.2" fill="#f81818"/>
<circle cx="892.50" cy="1145.00" r="5.2" fill="#f81818"/>
<circle cx="916.25" cy="1155.00" r="5.2" fill="#f81818"/>
<path d="M946.15,1184.40 V1164.90 H984.35 V1184.40" fill="#98ee86" stroke="#3dd52a" stroke-width="4.8" stroke-linejoin="miter"/>
<line x1="965.00" y1="1158.25" x2="965.00" y2="1168.00" stroke="#5ab44e" stroke-width="1.9" stroke-linecap="butt"/>
<line x1="955.00" y1="1158.25" x2="975.00" y2="1158.25" stroke="#5ab44e" stroke-width="1.9" stroke-linecap="butt"/>
<line x1="955.00" y1="1168.00" x2="975.00" y2="1168.00" stroke="#5ab44e" stroke-width="1.9" stroke-linecap="butt"/>
<circle cx="965.00" cy="1128.25" r="5.2" fill="#3fcc2c"/>
<circle cx="981.25" cy="1160.00" r="5.2" fill="#3fcc2c"/>
<circle cx="950.00" cy="1166.25" r="5.2" fill="#3fcc2c"/>
<circle cx="960.00" cy="1170.00" r="5.2" fill="#3fcc2c"/>
<circle cx="972.50" cy="1165.00" r="5.2" fill="#3fcc2c"/>
<circle cx="980.00" cy="1172.50" r="5.2" fill="#3fcc2c"/>
<circle cx="950.00" cy="1177.50" r="5.2" fill="#3fcc2c"/>
<circle cx="970.00" cy="1177.50" r="5.2" fill="#3fcc2c"/>
<path d="M1052.90,1184.40 V1169.90 H1091.35 V1184.40" fill="#8a84ff" stroke="#2408ff" stroke-width="4.8" stroke-linejoin="miter"/>
<line x1="1072.00" y1="1162.00" x2="1072.00" y2="1173.00" stroke="#3a30c8" stroke-width="1.9" stroke-linecap="butt"/>
<line x1="1062.00" y1="1162.00" x2="1082.00" y2="1162.00" stroke="#3a30c8" stroke-width="1.9" stroke-linecap="butt"/>
<line x1="1062.00" y1="1173.00" x2="1082.00" y2="1173.00" stroke="#3a30c8" stroke-width="1.9" stroke-linecap="butt"/>
<circle cx="1072.00" cy="1150.00" r="5.2" fill="#2408ff"/>
<circle cx="1078.00" cy="1162.50" r="5.2" fill="#2408ff"/>
<circle cx="1088.00" cy="1162.50" r="5.2" fill="#2408ff"/>
<circle cx="1056.25" cy="1166.25" r="5.2" fill="#2408ff"/>
<circle cx="1063.75" cy="1172.50" r="5.2" fill="#2408ff"/>
<circle cx="1072.50" cy="1171.25" r="5.2" fill="#2408ff"/>
<circle cx="1085.00" cy="1175.00" r="5.2" fill="#2408ff"/>
<circle cx="1057.50" cy="1178.75" r="5.2" fill="#2408ff"/>
<path d="M1116.90,1184.40 V1049.15 H1155.60 V1184.40" fill="#f07a83" stroke="#e8211d" stroke-width="4.8" stroke-linejoin="miter"/>
<line x1="1136.25" y1="1015.50" x2="1136.25" y2="1075.00" stroke="#dc3434" stroke-width="1.9" stroke-linecap="butt"/>
<line x1="1126.25" y1="1015.50" x2="1146.25" y2="1015.50" stroke="#dc3434" stroke-width="1.9" stroke-linecap="butt"/>
<line x1="1126.25" y1="1075.00" x2="1146.25" y2="1075.00" stroke="#dc3434" stroke-width="1.9" stroke-linecap="butt"/>
<circle cx="1136.25" cy="877.00" r="5.2" fill="#f81818"/>
<circle cx="1136.25" cy="966.75" r="5.2" fill="#f81818"/>
<circle cx="1136.25" cy="1037.00" r="5.2" fill="#f81818"/>
<circle cx="1136.25" cy="1048.75" r="5.2" fill="#f81818"/>
<circle cx="1147.00" cy="1094.50" r="5.2" fill="#f81818"/>
<circle cx="1125.00" cy="1103.75" r="5.2" fill="#f81818"/>
<circle cx="1147.00" cy="1108.75" r="5.2" fill="#f81818"/>
<circle cx="1136.25" cy="1130.75" r="5.2" fill="#f81818"/>
<path d="M1181.65,1184.40 V1131.65 H1220.10 V1184.40" fill="#98ee86" stroke="#3dd52a" stroke-width="4.8" stroke-linejoin="miter"/>
<line x1="1200.75" y1="1115.00" x2="1200.75" y2="1144.25" stroke="#5ab44e" stroke-width="1.9" stroke-linecap="butt"/>
<line x1="1190.25" y1="1115.00" x2="1211.25" y2="1115.00" stroke="#5ab44e" stroke-width="1.9" stroke-linecap="butt"/>
<line x1="1190.25" y1="1144.25" x2="1211.25" y2="1144.25" stroke="#5ab44e" stroke-width="1.9" stroke-linecap="butt"/>
<circle cx="1200.75" cy="1044.50" r="5.2" fill="#3fcc2c"/>
<circle cx="1200.75" cy="1094.50" r="5.2" fill="#3fcc2c"/>
<circle cx="1208.75" cy="1125.00" r="5.2" fill="#3fcc2c"/>
<circle cx="1192.50" cy="1130.00" r="5.2" fill="#3fcc2c"/>
<circle cx="1200.75" cy="1135.00" r="5.2" fill="#3fcc2c"/>
<circle cx="1200.75" cy="1156.25" r="5.2" fill="#3fcc2c"/>
<circle cx="1217.50" cy="1152.50" r="5.2" fill="#3fcc2c"/>
<circle cx="1185.00" cy="1165.00" r="5.2" fill="#3fcc2c"/>
<circle cx="1217.50" cy="1165.00" r="5.2" fill="#3fcc2c"/>
<line x1="793.40" y1="834.20" x2="793.40" y2="1186.10" stroke="#000" stroke-width="3.4" stroke-linecap="butt"/>
<line x1="778.75" y1="835.90" x2="793.40" y2="835.90" stroke="#000" stroke-width="3.4" stroke-linecap="butt"/>
<text x="775.30" y="843.60" font-size="24" font-weight="bold" text-anchor="end" fill="#000">3000</text>
<line x1="778.75" y1="952.10" x2="793.40" y2="952.10" stroke="#000" stroke-width="3.4" stroke-linecap="butt"/>
<text x="775.30" y="959.80" font-size="24" font-weight="bold" text-anchor="end" fill="#000">2000</text>
<line x1="778.75" y1="1068.20" x2="793.40" y2="1068.20" stroke="#000" stroke-width="3.4" stroke-linecap="butt"/>
<text x="775.30" y="1075.90" font-size="24" font-weight="bold" text-anchor="end" fill="#000">1000</text>
<line x1="778.75" y1="1184.40" x2="793.40" y2="1184.40" stroke="#000" stroke-width="3.4" stroke-linecap="butt"/>
<text x="775.30" y="1192.10" font-size="24" font-weight="bold" text-anchor="end" fill="#000">0</text>
<line x1="778.75" y1="1184.40" x2="1246.25" y2="1184.40" stroke="#000" stroke-width="3.4" stroke-linecap="butt"/>
<line x1="900.50" y1="1184.40" x2="900.50" y2="1198.75" stroke="#000" stroke-width="3" stroke-linecap="butt"/>
<line x1="1136.25" y1="1184.40" x2="1136.25" y2="1198.75" stroke="#000" stroke-width="3" stroke-linecap="butt"/>
<text x="900.60" y="1223.75" font-size="24" font-weight="bold" text-anchor="middle" fill="#000" textLength="83" lengthAdjust="spacingAndGlyphs">Vehicle</text>
<text x="1136.60" y="1223.75" font-size="24" font-weight="bold" text-anchor="middle" fill="#000" textLength="160.5" lengthAdjust="spacingAndGlyphs">SQL, 30mg/kg</text>
<path d="M891.25,831.25 V799.25 H1136.25 V831.25" fill="none" stroke="#000" stroke-width="2.6" stroke-linejoin="miter"/>
<text x="1014.50" y="797.50" font-size="37" font-weight="normal" text-anchor="middle" fill="#000" stroke="#000" stroke-width="0.7">*</text>
<path d="M959.25,884.25 V855.75 H1201.25 V884.25" fill="none" stroke="#000" stroke-width="2.6" stroke-linejoin="miter"/>
<text x="1081.25" y="854.50" font-size="37" font-weight="normal" text-anchor="middle" fill="#000" stroke="#000" stroke-width="0.7">*</text>
<path d="M838.00,980.00 V952.50 H1072.50 V980.00" fill="none" stroke="#000" stroke-width="2.6" stroke-linejoin="miter"/>
<text x="955.00" y="936.25" font-size="27.5" font-weight="normal" text-anchor="middle" fill="#1a1a1a">ns</text>
<text transform="translate(706.00,1010.00) rotate(-90)" font-size="24" font-weight="bold" text-anchor="middle" fill="#000" textLength="188" lengthAdjust="spacingAndGlyphs">Absolute # /mm<tspan font-size="16" dy="-11">3</tspan></text>
<rect x="439.0" y="1262.25" width="33" height="7.5" fill="#a9a5ff" stroke="#2408ff" stroke-width="5"/>
<rect x="607.0" y="1262.25" width="33" height="7.5" fill="#f6a0a4" stroke="#e8211d" stroke-width="5"/>
<rect x="793.0" y="1262.25" width="33" height="7.5" fill="#b4f5a6" stroke="#3dd52a" stroke-width="5"/>
<text x="496.00" y="1274.00" font-size="24" font-weight="normal" text-anchor="start" fill="#1a1a1a" textLength="64" lengthAdjust="spacingAndGlyphs">IFNγ+</text>
<text x="663.00" y="1274.00" font-size="24" font-weight="normal" text-anchor="start" fill="#1a1a1a" textLength="84" lengthAdjust="spacingAndGlyphs">TNF-<tspan font-family="'Liberation Serif','DejaVu Serif',serif" font-size="26">α</tspan>+</text>
<text x="850.00" y="1274.00" font-size="24" font-weight="normal" text-anchor="start" fill="#1a1a1a" textLength="155" lengthAdjust="spacingAndGlyphs">TNF-<tspan font-family="'Liberation Serif','DejaVu Serif',serif" font-size="26">α</tspan>+ IFNγ+</text>
<text x="1831.00" y="773.75" font-size="29.3" font-weight="bold" text-anchor="middle" fill="#000" textLength="297.5" lengthAdjust="spacingAndGlyphs">CD8+CD107a+ T cells</text>
<path d="M1751.45,1184.00 V1164.70 H1814.30 V1184.00" fill="#8a84ff" stroke="#2408ff" stroke-width="5.4" stroke-linejoin="miter"/>
<path d="M1852.90,1184.00 V1025.40 H1915.10 V1184.00" fill="#f07a83" stroke="#e8211d" stroke-width="4.8" stroke-linejoin="miter"/>
<circle cx="1783.00" cy="1134.75" r="5.5" fill="#2408ff"/>
<circle cx="1755.00" cy="1153.50" r="5.5" fill="#2408ff"/>
<circle cx="1773.75" cy="1158.50" r="5.5" fill="#2408ff"/>
<circle cx="1792.50" cy="1162.25" r="5.5" fill="#2408ff"/>
<circle cx="1792.50" cy="1174.75" r="5.5" fill="#2408ff"/>
<circle cx="1755.00" cy="1178.50" r="5.5" fill="#2408ff"/>
<circle cx="1811.25" cy="1169.75" r="5.5" fill="#2408ff"/>
<circle cx="1884.25" cy="873.25" r="5.5" fill="#f81818"/>
<circle cx="1884.25" cy="974.25" r="5.5" fill="#f81818"/>
<circle cx="1884.25" cy="1044.00" r="5.5" fill="#f81818"/>
<circle cx="1884.25" cy="1098.50" r="5.5" fill="#f81818"/>
<circle cx="1863.25" cy="1102.75" r="5.5" fill="#f81818"/>
<circle cx="1905.75" cy="1105.25" r="5.5" fill="#f81818"/>
<circle cx="1884.25" cy="1147.75" r="5.5" fill="#f81818"/>
<circle cx="1884.25" cy="1160.50" r="5.5" fill="#f81818"/>
<line x1="1715.70" y1="829.20" x2="1715.70" y2="911.25" stroke="#000" stroke-width="3.4" stroke-linecap="butt"/>
<line x1="1696.25" y1="830.90" x2="1715.70" y2="830.90" stroke="#000" stroke-width="3.4" stroke-linecap="butt"/>
<text x="1691.50" y="839.30" font-size="24" font-weight="bold" text-anchor="end" fill="#000">1100</text>
<line x1="1696.25" y1="870.90" x2="1715.70" y2="870.90" stroke="#000" stroke-width="3.4" stroke-linecap="butt"/>
<text x="1691.50" y="879.30" font-size="24" font-weight="bold" text-anchor="end" fill="#000">1050</text>
<text x="1691.50" y="919.65" font-size="24" font-weight="bold" text-anchor="end" fill="#000">1000</text>
<line x1="1708.50" y1="911.25" x2="1724.00" y2="911.25" stroke="#000" stroke-width="3.4" stroke-linecap="butt"/>
<line x1="1715.70" y1="941.25" x2="1715.70" y2="1185.70" stroke="#000" stroke-width="3.4" stroke-linecap="butt"/>
<line x1="1708.50" y1="941.25" x2="1724.00" y2="941.25" stroke="#000" stroke-width="3.4" stroke-linecap="butt"/>
<text x="1695.50" y="949.65" font-size="24" font-weight="bold" text-anchor="end" fill="#000">400</text>
<line x1="1701.25" y1="1002.00" x2="1715.70" y2="1002.00" stroke="#000" stroke-width="3.4" stroke-linecap="butt"/>
<text x="1695.50" y="1010.40" font-size="24" font-weight="bold" text-anchor="end" fill="#000">300</text>
<line x1="1701.25" y1="1063.50" x2="1715.70" y2="1063.50" stroke="#000" stroke-width="3.4" stroke-linecap="butt"/>
<text x="1695.50" y="1071.90" font-size="24" font-weight="bold" text-anchor="end" fill="#000">200</text>
<line x1="1701.25" y1="1123.00" x2="1715.70" y2="1123.00" stroke="#000" stroke-width="3.4" stroke-linecap="butt"/>
<text x="1695.50" y="1131.40" font-size="24" font-weight="bold" text-anchor="end" fill="#000">100</text>
<line x1="1701.25" y1="1184.00" x2="1715.70" y2="1184.00" stroke="#000" stroke-width="3.4" stroke-linecap="butt"/>
<text x="1695.50" y="1192.40" font-size="24" font-weight="bold" text-anchor="end" fill="#000">0</text>
<line x1="1701.25" y1="1184.00" x2="1953.75" y2="1184.00" stroke="#000" stroke-width="3.4" stroke-linecap="butt"/>
<line x1="1782.50" y1="1184.00" x2="1782.50" y2="1199.20" stroke="#000" stroke-width="3.2" stroke-linecap="butt"/>
<line x1="1884.25" y1="1184.00" x2="1884.25" y2="1199.20" stroke="#000" stroke-width="3.2" stroke-linecap="butt"/>
<text x="1839.00" y="827.00" font-size="24" font-weight="normal" text-anchor="middle" fill="#1a1a1a" textLength="74.5" lengthAdjust="spacingAndGlyphs">p=0.06</text>
<line x1="1790.50" y1="842.50" x2="1888.75" y2="842.50" stroke="#000" stroke-width="2.6" stroke-linecap="butt"/>
<text transform="translate(1622.00,1008.40) rotate(-90)" font-size="27.2" font-weight="bold" text-anchor="middle" fill="#000" textLength="208.4" lengthAdjust="spacingAndGlyphs">Absolute # /mm<tspan font-size="18" dy="-14.5">3</tspan></text>
<text transform="translate(1790,1222) rotate(-45)" font-size="24.8" font-weight="bold" text-anchor="end" fill="#000">Vehicle</text>
<text transform="translate(1892.5,1220) rotate(-45)" font-size="24.8" font-weight="bold" text-anchor="end" fill="#000">SQL, 30mg/kg</text>
</g>
</svg>
</body></html>
